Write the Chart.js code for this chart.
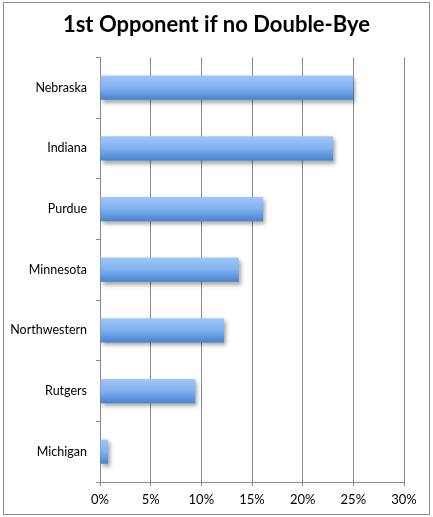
<!DOCTYPE html>
<html>
<head>
<meta charset="utf-8">
<script src="https://cdn.jsdelivr.net/npm/chart.js@4"></script>
<style>
html, body { margin: 0; padding: 0; background: #fff; }
#wrap { width: 433px; height: 517px; }
</style>
</head>
<body>
<div id="wrap"><canvas id="myChart" width="433" height="517"></canvas></div>
<script>
// data
const teams = ["Nebraska", "Indiana", "Purdue", "Minnesota", "Northwestern", "Rutgers", "Michigan"];
const shares = [25.0, 23.0, 16.1, 13.7, 12.25, 9.4, 0.8];
const xTicks = [0, 5, 10, 15, 20, 25, 30];
const chartTitle = "1st Opponent if no Double-Bye";

// gradient for one bar, top light to bottom dark
function barFill(ctx) {
  const chart = ctx.chart;
  const ys = chart.scales.y;
  if (!chart.chartArea || !ys || ctx.dataIndex === undefined) return "#80b1f0";
  const mid = ys.getPixelForValue(ctx.dataIndex);
  const half = (ys.height / teams.length) * 0.4 / 2;
  const g = chart.ctx.createLinearGradient(0, mid - half, 0, mid + half);
  g.addColorStop(0, "#a0c6f9");
  g.addColorStop(0.5, "#80b1f0");
  g.addColorStop(1, "#4683cf");
  return g;
}

const barLook = {
  id: "barLook",
  afterLayout(chart) {
    // center the title on the whole canvas
    const t = chart.titleBlock;
    if (t) { t.left = 0; t.right = chart.width; t.width = chart.width; }
  },
  beforeDatasetsDraw(chart) {
    const c = chart.ctx;
    c.save();
    c.shadowColor = "rgba(0,0,0,0.35)";
    c.shadowBlur = 4;
    c.shadowOffsetX = 2;
    c.shadowOffsetY = 3;
  },
  afterDatasetsDraw(chart) {
    chart.ctx.restore();
  },
  afterDraw(chart) {
    const c = chart.ctx;
    c.save();
    c.strokeStyle = "#8a8a8a";
    c.lineWidth = 1;
    c.strokeRect(3.5, 2.5, 426, 512);
    c.restore();
  }
};

new Chart("myChart", {
  type: "bar",
  data: {
    labels: teams,
    datasets: [{
      data: shares,
      backgroundColor: barFill,
      borderWidth: 0,
      barPercentage: 0.8,
      categoryPercentage: 0.5
    }]
  },
  options: {
    indexAxis: "y",
    responsive: false,
    animation: false,
    layout: { padding: { left: 0, right: 29, top: 0, bottom: 0 } },
    plugins: {
      legend: { display: false },
      tooltip: { enabled: false },
      title: {
        display: true,
        text: chartTitle,
        color: "#000",
        font: { family: "Lato", size: 22, weight: "bold" },
        padding: { top: 12, bottom: 19 }
      }
    },
    scales: {
      x: {
        min: 0,
        max: 30,
        afterBuildTicks(scale) {
          scale.ticks = xTicks.map(v => ({ value: v }));
        },
        afterFit(scale) { scale.height = 35; },
        grid: { color: "#898989", lineWidth: 1, tickLength: 4, drawTicks: true },
        border: { color: "#898989" },
        ticks: {
          color: "#000",
          font: { family: "Lato", size: 13 },
          padding: 6,
          maxRotation: 0,
          callback: v => v + "%"
        }
      },
      y: {
        afterFit(scale) { scale.width = 100; },
        grid: { offset: true, drawOnChartArea: false, color: "#898989", tickLength: 4 },
        border: { color: "#898989" },
        ticks: {
          color: "#000",
          font: { family: "Lato", size: 12.5 },
          padding: 9
        }
      }
    }
  },
  plugins: [barLook]
});
</script>
</body>
</html>
